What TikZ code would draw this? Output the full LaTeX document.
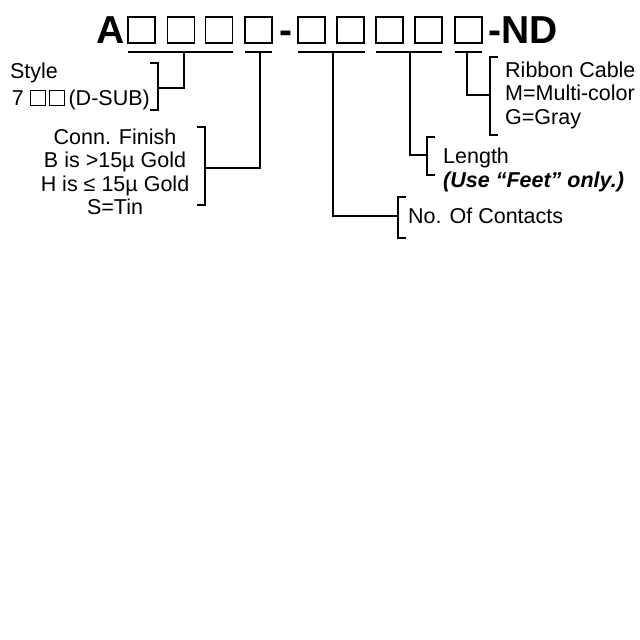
\documentclass[tikz,border=0pt]{standalone}
\usepackage{fontspec}
\setmainfont{Liberation Sans}
\usetikzlibrary{positioning}
\newcommand{\smallsq}{\tikz[baseline=0pt]\draw[line width=0.8pt] (0,0) rectangle (15pt,15pt);}
\tikzset{
  digit/.style={draw, line width=1.3pt, minimum width=27pt, minimum height=26pt, inner sep=0pt},
  lbl/.style={font=\fontsize{21.5}{23.5}\selectfont, inner sep=0pt, align=center},
  lead/.style={line width=1.3pt},
}
\begin{document}
\begin{tikzpicture}[x=1pt,y=-1pt]
        \useasboundingbox (0,0) rectangle (640,640);
        % part number
        \node[font=\fontsize{39}{39}\bfseries, inner sep=0pt, anchor=base] (pa) at (111,43) {A};
        \foreach \n/\x in {1/141.5,2/181,3/219,4/258.5,5/311.5,6/350.5,7/389.5,8/428.5,9/468.5}
          \node[digit] (b\n) at (\x,30) {};
        \node[font=\fontsize{39}{39}\bfseries, inner sep=0pt, anchor=base] (dash) at (286,43) {-};
        \node[font=\fontsize{39}{39}\bfseries, inner sep=0pt, anchor=base west] (nd) at (488,43) {-ND};
        % underlines
        \coordinate (u1a) at (128,52); \coordinate (u1b) at (233,52);
        \coordinate (u2a) at (245,52); \coordinate (u2b) at (272,52);
        \coordinate (u3a) at (298,52); \coordinate (u3b) at (365,52);
        \coordinate (u4a) at (376,52); \coordinate (u4b) at (442,52);
        \coordinate (u5a) at (455,52); \coordinate (u5b) at (482,52);
        \foreach \k in {1,...,5} \draw[lead] (u\k a) -- (u\k b);
        % labels
        \node[lbl] (style) at (34,73) {Style};
        \node[lbl, anchor=east] (dsub) at (150,100) {7 \smallsq\,\smallsq\,(D-SUB)};
        \node[lbl] (finish) at (115,172) {Conn. Finish\\B is >15µ Gold\\H is ≤ 15µ Gold\\S=Tin};
        \node[lbl, align=left, anchor=west] (ribbon) at (505,95) {Ribbon Cable\\M=Multi-color\\G=Gray};
        \node[lbl, align=left, anchor=west] (length) at (443,170) {Length\\\textbf{\textit{(Use “Feet” only.)}}};
        \node[lbl, anchor=west] (contacts) at (408,216) {No. Of Contacts};
        % brackets
        \draw[lead] (150,63) -- (158,63) -- (158,110) -- (150,110);
        \draw[lead] (197,127) -- (205,127) -- (205,205) -- (197,205);
        \draw[lead] (406,197) -- (398,197) -- (398,238) -- (406,238);
        \draw[lead] (435,137) -- (427,137) -- (427,175) -- (435,175);
        \draw[lead] (498,57) -- (490,57) -- (490,135) -- (498,135);
        % leaders
        \draw[lead] (184,52) |- (158,88);
        \draw[lead] (260,52) |- (205,168);
        \draw[lead] (333,52) |- (398,216);
        \draw[lead] (410,52) |- (427,155);
        \draw[lead] (467,52) |- (490,95);
\end{tikzpicture}
\end{document}
